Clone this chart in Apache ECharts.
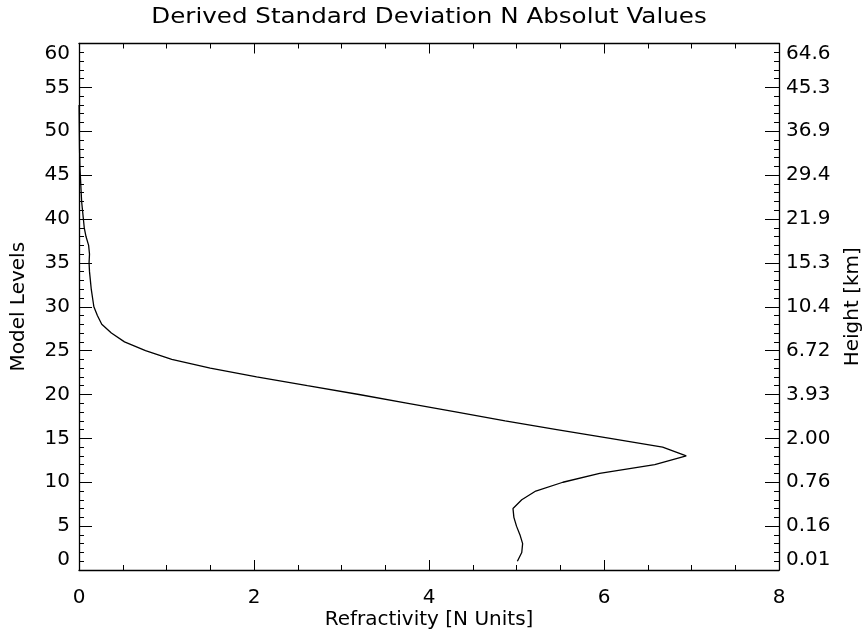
<!DOCTYPE html>
<html>
<head>
<meta charset="utf-8">
<script src="https://cdn.jsdelivr.net/npm/echarts@6/dist/echarts.min.js"></script>
<style>
  html, body { margin: 0; padding: 0; background: #fff; }
  #chart { width: 864px; height: 636px; }
</style>
</head>
<body>
<div id="chart"></div>
<script>
// Model levels (vertical coordinate) of the profile
const levels = [1, 2, 3, 4, 5, 6, 7, 8, 9, 10,
  11, 12, 13, 14, 15, 16, 17, 18, 19, 20,
  21, 22, 23, 24, 25, 26, 27, 28, 29, 30,
  31, 32, 33, 34, 35, 36, 37, 38, 39, 40,
  41, 42, 43, 44, 45, 46, 47, 48, 49, 50,
  51, 52, 53];

// Standard deviation of refractivity at each level [N units]
const stdDevN = [5.01, 5.06, 5.07, 5.04, 5.00, 4.97, 4.96, 5.06, 5.22, 5.53,
  5.95, 6.58, 6.94, 6.67, 6.07, 5.46, 4.87, 4.32, 3.76, 3.20,
  2.61, 2.03, 1.50, 1.06, 0.76, 0.52, 0.37, 0.26, 0.21, 0.17,
  0.155, 0.14, 0.13, 0.12, 0.115, 0.12, 0.11, 0.08, 0.06, 0.05,
  0.04, 0.03, 0.025, 0.02, 0.015, 0.01, 0.008, 0.006, 0.005, 0.004,
  0.003, 0.002, 0.001];

// Height [km] labels shown on the right axis at every 5th level
const heightLabels = ['0.01', '0.16', '0.76', '2.00', '3.93', '6.72', '10.4',
  '15.3', '21.9', '29.4', '36.9', '45.3', '64.6'];

const FONT = 'DejaVu Sans';
const chart = echarts.init(document.getElementById('chart'), null, { renderer: 'canvas' });

const profile = levels.map((lv, i) => [stdDevN[i], lv]);

const tickLine = { color: '#000', width: 1 };

chart.setOption({
  animation: false,
  backgroundColor: '#fff',
  // Title drawn as a horizontally widened text element
  graphic: [
    {
      type: 'text',
      x: 429,
      y: 18,
      scaleX: 1.17,
      silent: true,
      style: {
        text: 'Derived Standard Deviation N Absolut Values',
        font: '21px "DejaVu Sans"',
        fill: '#000',
        align: 'center',
        verticalAlign: 'middle'
      }
    }
  ],
  grid: { left: 79, right: 85, top: 43.5, bottom: 66, containLabel: false, outerBoundsMode: 'none' },
  xAxis: [
    {
      type: 'value', position: 'bottom', min: 0, max: 8, interval: 2,
      name: 'Refractivity [N Units]', nameLocation: 'middle', nameGap: 40,
      nameMoveOverlap: false,
      nameTextStyle: { fontFamily: FONT, fontSize: 20, color: '#000' },
      axisLine: { show: true, onZero: false, lineStyle: { color: '#000', width: 1.3 } },
      axisTick: { show: true, inside: true, length: 10, lineStyle: tickLine },
      minorTick: { show: true, splitNumber: 4, length: 5, lineStyle: tickLine },
      splitLine: { show: false },
      axisLabel: { fontFamily: FONT, fontSize: 20, color: '#000', margin: 18 }
    },
    {
      type: 'value', position: 'top', min: 0, max: 8, interval: 2,
      axisLine: { show: true, onZero: false, lineStyle: { color: '#000', width: 1.3 } },
      axisTick: { show: true, inside: true, length: 10, lineStyle: tickLine },
      minorTick: { show: true, splitNumber: 4, length: 5, lineStyle: tickLine },
      splitLine: { show: false },
      axisLabel: { show: false }
    }
  ],
  yAxis: [
    {
      type: 'value', position: 'left', min: 0, max: 60, interval: 5,
      name: 'Model Levels', nameLocation: 'middle', nameGap: 50, nameRotate: 90,
      nameMoveOverlap: false,
      nameTextStyle: { fontFamily: FONT, fontSize: 20, color: '#000' },
      axisLine: { show: true, onZero: false, lineStyle: { color: '#000', width: 1.3 } },
      axisTick: { show: true, inside: true, length: 13, lineStyle: tickLine },
      minorTick: { show: true, splitNumber: 5, length: 5, lineStyle: tickLine },
      splitLine: { show: false },
      axisLabel: {
        fontFamily: FONT, fontSize: 20, color: '#000', margin: 9,
        verticalAlignMinLabel: 'bottom', verticalAlignMaxLabel: 'top'
      }
    },
    {
      type: 'value', position: 'right', min: 0, max: 60, interval: 5,
      name: 'Height [km]', nameLocation: 'middle', nameGap: 64, nameRotate: 90,
      nameMoveOverlap: false,
      nameTextStyle: { fontFamily: FONT, fontSize: 20, color: '#000' },
      axisLine: { show: true, onZero: false, lineStyle: { color: '#000', width: 1.3 } },
      axisTick: { show: true, inside: true, length: 14, lineStyle: tickLine },
      minorTick: { show: true, splitNumber: 5, length: 5, lineStyle: tickLine },
      splitLine: { show: false },
      axisLabel: {
        fontFamily: FONT, fontSize: 20, color: '#000', margin: 7,
        verticalAlignMinLabel: 'bottom', verticalAlignMaxLabel: 'top',
        formatter: function (v) { return heightLabels[Math.round(v / 5)]; }
      }
    }
  ],
  series: [
    {
      type: 'line',
      xAxisIndex: 0,
      yAxisIndex: 0,
      data: profile,
      showSymbol: false,
      smooth: false,
      lineStyle: { color: '#000', width: 1.3 }
    }
  ]
});
</script>
</body>
</html>
